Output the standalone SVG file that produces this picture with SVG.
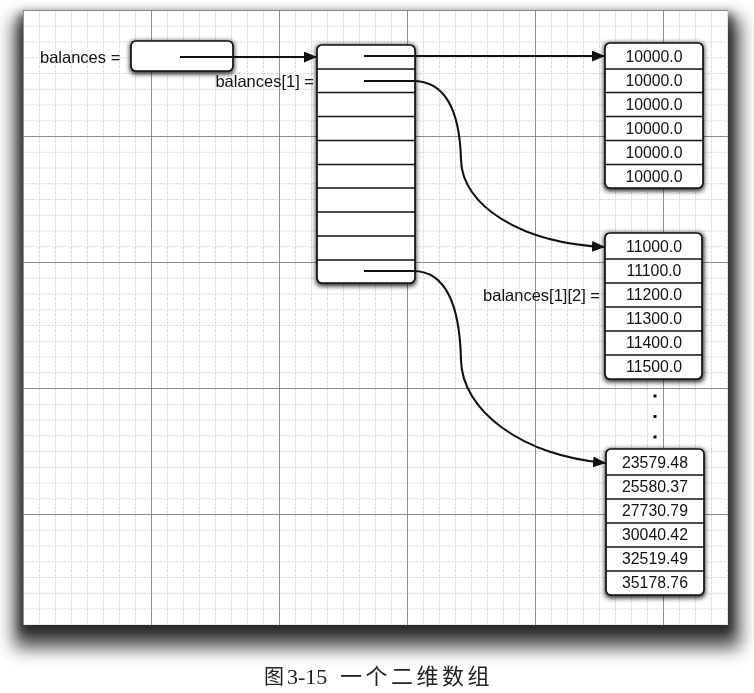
<svg xmlns="http://www.w3.org/2000/svg" width="754" height="693" viewBox="0 0 754 693">
<style>
.lbl{font-family:"Liberation Sans",Arial,sans-serif;font-size:16.5px;fill:#111}
.num{font-family:"Liberation Sans",Arial,sans-serif;font-size:15.8px;fill:#111;text-anchor:middle}
.box{fill:#fff;stroke:#111;stroke-width:1.7}
.sep{stroke:#111;stroke-width:1.7}
.conn{fill:none;stroke:#111;stroke-width:2.1}
.cap{font-family:"Liberation Serif","Noto Sans CJK SC",serif;font-size:22px;fill:#222}
</style>
<defs>
<filter id="paperShadow" x="-10%" y="-10%" width="120%" height="120%">
<feGaussianBlur stdDeviation="9"/>
</filter>
<filter id="paperShadow2" x="-10%" y="-10%" width="120%" height="120%">
<feGaussianBlur stdDeviation="4"/>
</filter>
<filter id="boxShadow" x="-30%" y="-30%" width="160%" height="160%">
<feGaussianBlur stdDeviation="2.4"/>
</filter>
<pattern id="minor" patternUnits="userSpaceOnUse" x="23" y="10" width="16" height="15.75">
<path d="M0 0V15.75M0 0H16" fill="none" stroke="#bcbcbc" stroke-width="1.1" stroke-dasharray="3 1"/>
</pattern>
<pattern id="major" patternUnits="userSpaceOnUse" x="23" y="10" width="128" height="126">
<path d="M0 0V126M0 0H128" fill="none" stroke="#6e6e6e" stroke-width="1.4"/>
</pattern>
<marker id="arr" markerWidth="13" markerHeight="11" refX="12" refY="5.5" orient="auto" markerUnits="userSpaceOnUse">
<path d="M0 0L13 5.5L0 11Z" fill="#111"/>
</marker>
</defs>

<rect width="754" height="693" fill="#fff"/>
<g id="paper">
<rect x="14" y="18" width="726" height="630" fill="#000" opacity="0.7" filter="url(#paperShadow)"/>
<rect x="19" y="13" width="714" height="620" fill="#000" opacity="0.45" filter="url(#paperShadow2)"/>
<rect x="23" y="10" width="705" height="615" fill="#fff"/>
<rect x="23" y="10" width="705" height="615" fill="url(#minor)"/>
<rect x="23" y="10" width="705" height="615" fill="url(#major)"/>
</g>

<g id="shadows" opacity="0.9">
<rect x="130" y="41" width="104" height="33" rx="5" fill="#000" filter="url(#boxShadow)"/>
<rect x="316" y="45" width="100" height="241" rx="5" fill="#000" filter="url(#boxShadow)"/>
<rect x="604" y="43" width="100" height="148" rx="5" fill="#000" filter="url(#boxShadow)"/>
<rect x="604" y="233" width="100" height="149" rx="5" fill="#000" filter="url(#boxShadow)"/>
<rect x="605" y="449" width="100" height="149" rx="5" fill="#000" filter="url(#boxShadow)"/>
</g>

<g id="label-balances">
<text class="lbl" x="40" y="63">balances =</text>
</g>
<g id="var-balances">
<rect class="box" x="131" y="41" width="102" height="30" rx="5"/>
</g>

<g id="outer-array">
<rect class="box" x="317" y="45" width="98" height="238" rx="5"/>
<path class="sep" d="M317 69H415M317 92.5H415M317 116.5H415M317 140.5H415M317 164.5H415M317 188H415M317 212H415M317 236H415M317 260H415"/>
</g>
<g id="label-balances1">
<text class="lbl" x="314" y="87" text-anchor="end">balances[1] =</text>
</g>

<g id="row0">
<rect class="box" x="605" y="43" width="98" height="145" rx="5"/>
<path class="sep" d="M605 69H703M605 92.5H703M605 116.5H703M605 140.5H703M605 164.5H703"/>
<text class="num" x="654" y="62">10000.0</text>
<text class="num" x="654" y="86">10000.0</text>
<text class="num" x="654" y="110">10000.0</text>
<text class="num" x="654" y="134">10000.0</text>
<text class="num" x="654" y="158">10000.0</text>
<text class="num" x="654" y="182">10000.0</text>
</g>

<g id="row1">
<rect class="box" x="605" y="233" width="97" height="146" rx="5"/>
<path class="sep" d="M605 259H702M605 283H702M605 307H702M605 331H702M605 355H702"/>
<text class="num" x="654" y="252">11000.0</text>
<text class="num" x="654" y="276">11100.0</text>
<text class="num" x="654" y="300">11200.0</text>
<text class="num" x="654" y="324">11300.0</text>
<text class="num" x="654" y="348">11400.0</text>
<text class="num" x="654" y="372">11500.0</text>
</g>
<g id="label-balances12">
<text class="lbl" x="600" y="301" text-anchor="end">balances[1][2] =</text>
</g>

<g id="ellipsis">
<rect x="653.5" y="394.5" width="3" height="3" fill="#111"/>
<rect x="653.5" y="415" width="3" height="3" fill="#111"/>
<rect x="653.5" y="435.5" width="3" height="3" fill="#111"/>
</g>

<g id="row9">
<rect class="box" x="606" y="449" width="98" height="146" rx="5"/>
<path class="sep" d="M606 475H704M606 499H704M606 523H704M606 547H704M606 571H704"/>
<text class="num" x="655" y="468">23579.48</text>
<text class="num" x="655" y="492">25580.37</text>
<text class="num" x="655" y="516">27730.79</text>
<text class="num" x="655" y="540">30040.42</text>
<text class="num" x="655" y="564">32519.49</text>
<text class="num" x="655" y="588">35178.76</text>
</g>

<g id="connectors">
<path class="conn" d="M180 57H316" marker-end="url(#arr)"/>
<path class="conn" d="M364 56H604" marker-end="url(#arr)"/>
<path class="conn" d="M364 81H413C450 81 460 120 461 160C462 205 520 243 604 247" marker-end="url(#arr)"/>
<path class="conn" d="M364 271H413C450 271 460 315 461 360C462 410 520 455 605 463" marker-end="url(#arr)"/>
</g>

<g id="caption">
<text class="cap" y="684"><tspan x="264" font-family="Noto Sans CJK SC" font-size="20">图</tspan><tspan x="287">3-15</tspan><tspan x="340" font-family="Noto Sans CJK SC" letter-spacing="3.5">一个二维数组</tspan></text>
</g>
</svg>
